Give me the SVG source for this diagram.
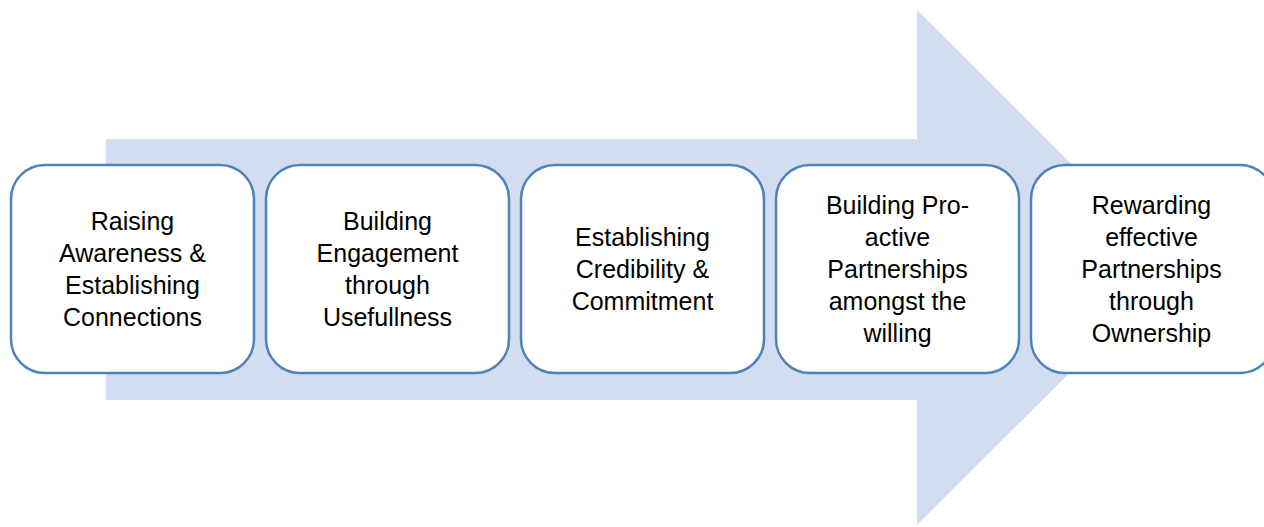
<svg xmlns="http://www.w3.org/2000/svg" width="1264" height="527" viewBox="0 0 1264 527">
  <style>
    .box { fill: #ffffff; stroke: #4f81bd; stroke-width: 2.5; }
    .label { font-family: "Liberation Sans", Arial, sans-serif; font-size: 25px; fill: #000000; text-anchor: middle; }
  </style>
  <rect width="1264" height="527" fill="#ffffff"/>
  <!-- background process arrow -->
  <g id="arrow">
    <polygon points="106,139 917,139 917,10 1175,267.5 917,525 917,400 106,400" fill="#d2ddef"/>
  </g>
  <g id="connectors"></g>
  <g id="step1">
    <rect class="box" x="11" y="165" width="243" height="208" rx="34" ry="34"/>
    <text class="label" x="132.5"><tspan x="132.5" y="230">Raising</tspan><tspan x="132.5" y="262">Awareness &amp;</tspan><tspan x="132.5" y="294">Establishing</tspan><tspan x="132.5" y="326">Connections</tspan></text>
  </g>
  <g id="step2">
    <rect class="box" x="266" y="165" width="243" height="208" rx="34" ry="34"/>
    <text class="label"><tspan x="387.5" y="230">Building</tspan><tspan x="387.5" y="262">Engagement</tspan><tspan x="387.5" y="294">through</tspan><tspan x="387.5" y="326">Usefullness</tspan></text>
  </g>
  <g id="step3">
    <rect class="box" x="521" y="165" width="243" height="208" rx="34" ry="34"/>
    <text class="label"><tspan x="642.5" y="246">Establishing</tspan><tspan x="642.5" y="278">Credibility &amp;</tspan><tspan x="642.5" y="310">Commitment</tspan></text>
  </g>
  <g id="step4">
    <rect class="box" x="776" y="165" width="243" height="208" rx="34" ry="34"/>
    <text class="label"><tspan x="897.5" y="214">Building Pro-</tspan><tspan x="897.5" y="246">active</tspan><tspan x="897.5" y="278">Partnerships</tspan><tspan x="897.5" y="310">amongst the</tspan><tspan x="897.5" y="342">willing</tspan></text>
  </g>
  <g id="step5">
    <rect class="box" x="1031" y="165" width="243" height="208" rx="34" ry="34"/>
    <text class="label"><tspan x="1151.5" y="214">Rewarding</tspan><tspan x="1151.5" y="246">effective</tspan><tspan x="1151.5" y="278">Partnerships</tspan><tspan x="1151.5" y="310">through</tspan><tspan x="1151.5" y="342">Ownership</tspan></text>
  </g>
</svg>
